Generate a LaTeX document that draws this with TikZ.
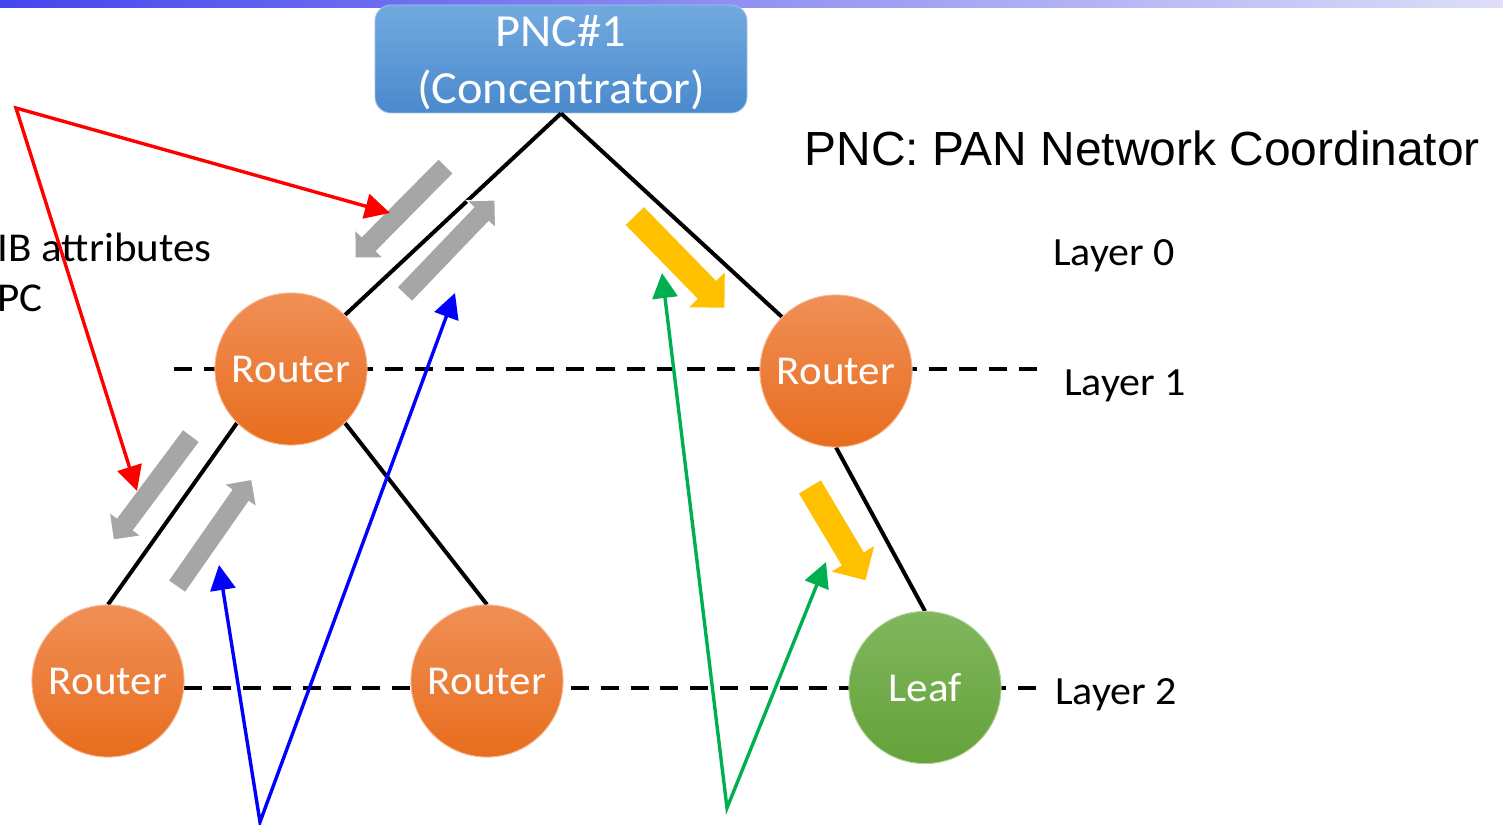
\documentclass[tikz,border=0pt]{standalone}
\usepackage{fontspec}
\setmainfont{Carlito}[FakeStretch=1.05]
\newfontfamily\arialfont{Liberation Sans}
\usetikzlibrary{arrows.meta,calc}

\definecolor{orangetop}{HTML}{F08F56}
\definecolor{orangebot}{HTML}{E86D1D}
\definecolor{greentop}{HTML}{80B65D}
\definecolor{greenbot}{HTML}{65A23A}
\definecolor{bluetop}{HTML}{72AADF}
\definecolor{bluebot}{HTML}{4A89CC}
\definecolor{grayarrow}{HTML}{A6A6A6}
\definecolor{yellowarrow}{HTML}{FFC000}
\definecolor{barleft}{HTML}{4545EE}
\definecolor{barright}{HTML}{DEDEF8}
\definecolor{linkred}{HTML}{FF0000}
\definecolor{linkblue}{HTML}{0000FF}
\definecolor{linkgreen}{HTML}{00B050}

% block arrow: style, tail, tip, half shaft width, half head width, head length
\newcommand\blockarrow[6]{%
  \coordinate (ba-h) at ($(#3)!#6!(#2)$);
  \filldraw[#1] ($(#2)!#4!90:(#3)$) -- ($(ba-h)!#4!90:(#3)$) -- ($(ba-h)!#5!90:(#3)$)
    -- (#3) -- ($(ba-h)!#5!-90:(#3)$) -- ($(ba-h)!#4!-90:(#3)$) -- ($(#2)!#4!-90:(#3)$) -- cycle;
}

\tikzset{
  router/.style={circle, inner sep=0pt, minimum size=152pt, top color=orangetop,
    bottom color=orangebot, draw=orangetop!60!white, line width=0.8pt, text=white,
    font=\fontsize{41}{49}\selectfont},
  leafnode/.style={router, top color=greentop, bottom color=greenbot, draw=greentop!60!white},
  pncbox/.style={rectangle, rounded corners=16pt, minimum width=372pt, minimum height=108pt,
    top color=bluetop, bottom color=bluebot, draw=bluetop!70!white, line width=0.8pt},
  boxtext/.style={anchor=base, inner sep=0pt, text=white, font=\fontsize{46}{55}\selectfont},
  layerlabel/.style={anchor=base west, inner sep=0pt, font=\fontsize{40}{48}\selectfont},
  sidetext/.style={anchor=base west, inner sep=0pt, font=\fontsize{41}{49}\selectfont},
  treelink/.style={line width=4pt, black},
  layerline/.style={line width=4pt, black},
  grayblock/.style={fill=grayarrow, draw=white, line width=1.2pt},
  yellowblock/.style={fill=yellowarrow, draw=white, line width=1.2pt},
  pointer/.style={line width=3.4pt, line join=miter,
    {Triangle[length=25pt,width=25pt]}-{Triangle[length=25pt,width=25pt]}},
}

\begin{document}
\begin{tikzpicture}[x=1pt, y=-1pt]
\useasboundingbox (0,0) rectangle (1503,824);

% title bar strip
\shade[left color=barleft, right color=barright] (0,0) rectangle (1503,7.5);

% layer guide lines
\coordinate (l1start) at (173.5,368.5);
\coordinate (l1end) at (1037.5,368.5);
\coordinate (l2start) at (94.1,687.5);
\coordinate (l2end) at (1036,687.5);
\draw[layerline, dash pattern=on 18.3pt off 11.9pt] (l1start) -- (l1end);
\draw[layerline, dash pattern=on 18pt off 11.8pt] (l2start) -- (l2end);

% nodes
\node[pncbox] (pnc) at (561,59) {};
\node[router] (r1l) at (291,369) {};
\node[router] (r1r) at (836,371) {};
\node[router] (r2l) at (108,681) {};
\node[router] (r2m) at (487,681) {};
\node[leafnode] (leaf) at (925,687.5) {};

% tree links
\draw[treelink] (pnc.south) -- (r1l.north east);
\draw[treelink] (pnc.south) -- (r1r.north west);
\draw[treelink] (r1l.south west) -- (r2l.north);
\draw[treelink] (r1l.south east) -- (r2m.north);
\draw[treelink] (r1r.south) -- (leaf.north);

% redraw nodes on top of links
\node[router] at (r1l) {Router};
\node[router] at (r1r) {Router};
\node[router] at (r2l) {Router};
\node[router] at (r2m) {Router};
\node[leafnode] at (leaf) {Leaf};

% box text
\node[boxtext] (pnctitle) at (561,47) {PNC\#1};
\node[boxtext] (pncrole) at (561,104) {(Concentrator)};

% data flow block arrows
\coordinate (g1t) at (446,166);     \coordinate (g1h) at (355,258);
\coordinate (g2t) at (404.5,294.5); \coordinate (g2h) at (495,200);
\coordinate (g3t) at (191.3,435.5); \coordinate (g3h) at (113.3,540);
\coordinate (g4t) at (176.7,586.7); \coordinate (g4h) at (251.7,479.3);
\coordinate (y1t) at (634.3,215.5); \coordinate (y1h) at (725,308.3);
\coordinate (y2t) at (809.5,486.3); \coordinate (y2h) at (866,581);
\blockarrow{grayblock}{g1t}{g1h}{10.5pt}{20pt}{20pt}
\blockarrow{grayblock}{g2t}{g2h}{10.5pt}{20pt}{20pt}
\blockarrow{grayblock}{g3t}{g3h}{10.5pt}{20pt}{20pt}
\blockarrow{grayblock}{g4t}{g4h}{10.5pt}{20pt}{20pt}
\blockarrow{yellowblock}{y1t}{y1h}{13.5pt}{26.5pt}{26.5pt}
\blockarrow{yellowblock}{y2t}{y2h}{13.5pt}{26.5pt}{26.5pt}

% labels
\node[anchor=base west, inner sep=0pt, font=\arialfont\fontsize{47.9}{57}\selectfont]
  (legend) at (804.5,165.7) {PNC: PAN Network Coordinator};
\node[layerlabel] (lay0) at (1053,265) {Layer 0};
\node[layerlabel] (lay1) at (1064,395) {Layer 1};
\node[layerlabel] (lay2) at (1055,704) {Layer 2};
\node[sidetext] (mibtext) at (-2.5,261.7) {IB attributes};
\node[sidetext] (pctext) at (-2.5,311.7) {PC};

% callout pointers
\coordinate (redapex) at (16,108);
\coordinate (redtipa) at (390,213);
\coordinate (redtipb) at (137,491);
\coordinate (blueapex) at (260,822);
\coordinate (bluetipa) at (219,565);
\coordinate (bluetipb) at (455,293);
\coordinate (greenapex) at (727,808);
\coordinate (greentipa) at (662,273);
\coordinate (greentipb) at (826,562);
\draw[pointer, linkred] (redtipa) -- (redapex) -- (redtipb);
\draw[pointer, linkblue] (bluetipa) -- (blueapex) -- (bluetipb);
\draw[pointer, linkgreen] (greentipa) -- (greenapex) -- (greentipb);
\end{tikzpicture}
\end{document}
